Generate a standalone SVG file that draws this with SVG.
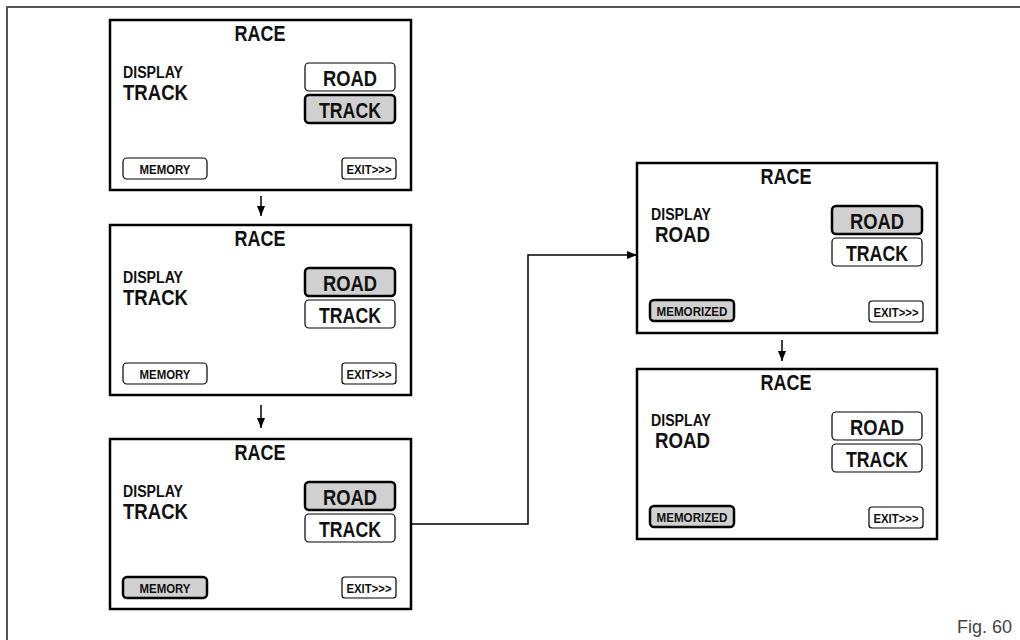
<svg xmlns="http://www.w3.org/2000/svg" width="1020" height="640" viewBox="0 0 1020 640">
<style>
.scr{fill:#fff;stroke:#000;stroke-width:2.5}
.btn{fill:#fff;stroke:#000;stroke-width:1.2}
.sel{fill:#d0d0d0;stroke:#000;stroke-width:2.5}
.t{font-family:'Liberation Sans Narrow','Liberation Sans',Arial,sans-serif;font-weight:bold;fill:#111}
.big{font-size:22.5px}
.mid{font-size:16px}
.sm{font-size:13px}
.c{text-anchor:middle}
.conn{fill:none;stroke:#000;stroke-width:1.5}
.frame{fill:none;stroke:#555;stroke-width:2}
</style>
<defs>
<marker id="ah" viewBox="0 0 10 8" refX="10" refY="4" markerWidth="10" markerHeight="8" markerUnits="userSpaceOnUse" orient="auto">
<path d="M0,0 L10,4 L0,8 z" fill="#000"/>
</marker>
</defs>
<path class="frame" d="M7,640 V7 H1020"/>
<g id="screen1" transform="translate(110,20)">
<rect class="scr" x="0" y="0" width="301" height="170"/>
<text class="t big c" x="150" y="21" textLength="51" lengthAdjust="spacingAndGlyphs">RACE</text>
<text class="t mid" x="13" y="58" textLength="60" lengthAdjust="spacingAndGlyphs">DISPLAY</text>
<text class="t big" x="13" y="80" textLength="65" lengthAdjust="spacingAndGlyphs">TRACK</text>
<rect class="btn" x="195" y="43" width="90" height="28" rx="4"/>
<text class="t big c" x="240" y="66" textLength="54" lengthAdjust="spacingAndGlyphs">ROAD</text>
<rect class="sel" x="195" y="75" width="90" height="28" rx="4"/>
<text class="t big c" x="240" y="98" textLength="62" lengthAdjust="spacingAndGlyphs">TRACK</text>
<rect class="btn" x="13" y="138" width="84" height="21" rx="4"/>
<text class="t sm c" x="55" y="153.5" textLength="51" lengthAdjust="spacingAndGlyphs">MEMORY</text>
<rect class="btn" x="232" y="138" width="54" height="21" rx="3"/>
<text class="t sm c" x="259" y="153.5" textLength="45" lengthAdjust="spacingAndGlyphs">EXIT&gt;&gt;&gt;</text>
</g>
<g id="screen2" transform="translate(110,225)">
<rect class="scr" x="0" y="0" width="301" height="170"/>
<text class="t big c" x="150" y="21" textLength="51" lengthAdjust="spacingAndGlyphs">RACE</text>
<text class="t mid" x="13" y="58" textLength="60" lengthAdjust="spacingAndGlyphs">DISPLAY</text>
<text class="t big" x="13" y="80" textLength="65" lengthAdjust="spacingAndGlyphs">TRACK</text>
<rect class="sel" x="195" y="43" width="90" height="28" rx="4"/>
<text class="t big c" x="240" y="66" textLength="54" lengthAdjust="spacingAndGlyphs">ROAD</text>
<rect class="btn" x="195" y="75" width="90" height="28" rx="4"/>
<text class="t big c" x="240" y="98" textLength="62" lengthAdjust="spacingAndGlyphs">TRACK</text>
<rect class="btn" x="13" y="138" width="84" height="21" rx="4"/>
<text class="t sm c" x="55" y="153.5" textLength="51" lengthAdjust="spacingAndGlyphs">MEMORY</text>
<rect class="btn" x="232" y="138" width="54" height="21" rx="3"/>
<text class="t sm c" x="259" y="153.5" textLength="45" lengthAdjust="spacingAndGlyphs">EXIT&gt;&gt;&gt;</text>
</g>
<g id="screen3" transform="translate(110,439)">
<rect class="scr" x="0" y="0" width="301" height="170"/>
<text class="t big c" x="150" y="21" textLength="51" lengthAdjust="spacingAndGlyphs">RACE</text>
<text class="t mid" x="13" y="58" textLength="60" lengthAdjust="spacingAndGlyphs">DISPLAY</text>
<text class="t big" x="13" y="80" textLength="65" lengthAdjust="spacingAndGlyphs">TRACK</text>
<rect class="sel" x="195" y="43" width="90" height="28" rx="4"/>
<text class="t big c" x="240" y="66" textLength="54" lengthAdjust="spacingAndGlyphs">ROAD</text>
<rect class="btn" x="195" y="75" width="90" height="28" rx="4"/>
<text class="t big c" x="240" y="98" textLength="62" lengthAdjust="spacingAndGlyphs">TRACK</text>
<rect class="sel" x="13" y="138" width="84" height="21" rx="4"/>
<text class="t sm c" x="55" y="153.5" textLength="51" lengthAdjust="spacingAndGlyphs">MEMORY</text>
<rect class="btn" x="232" y="138" width="54" height="21" rx="3"/>
<text class="t sm c" x="259" y="153.5" textLength="45" lengthAdjust="spacingAndGlyphs">EXIT&gt;&gt;&gt;</text>
</g>
<g id="screen4" transform="translate(637,163)">
<rect class="scr" x="0" y="0" width="300" height="170"/>
<text class="t big c" x="149" y="21" textLength="51" lengthAdjust="spacingAndGlyphs">RACE</text>
<text class="t mid" x="14" y="57" textLength="60" lengthAdjust="spacingAndGlyphs">DISPLAY</text>
<text class="t big" x="18" y="79" textLength="55" lengthAdjust="spacingAndGlyphs">ROAD</text>
<rect class="sel" x="195" y="43" width="90" height="28" rx="4"/>
<text class="t big c" x="240" y="66" textLength="54" lengthAdjust="spacingAndGlyphs">ROAD</text>
<rect class="btn" x="195" y="75" width="90" height="28" rx="4"/>
<text class="t big c" x="240" y="98" textLength="62" lengthAdjust="spacingAndGlyphs">TRACK</text>
<rect class="sel" x="13" y="137" width="84" height="21" rx="4"/>
<text class="t sm c" x="55" y="152.5" textLength="71" lengthAdjust="spacingAndGlyphs">MEMORIZED</text>
<rect class="btn" x="232" y="138" width="54" height="21" rx="3"/>
<text class="t sm c" x="259" y="153.5" textLength="45" lengthAdjust="spacingAndGlyphs">EXIT&gt;&gt;&gt;</text>
</g>
<g id="screen5" transform="translate(637,369)">
<rect class="scr" x="0" y="0" width="300" height="170"/>
<text class="t big c" x="149" y="21" textLength="51" lengthAdjust="spacingAndGlyphs">RACE</text>
<text class="t mid" x="14" y="57" textLength="60" lengthAdjust="spacingAndGlyphs">DISPLAY</text>
<text class="t big" x="18" y="79" textLength="55" lengthAdjust="spacingAndGlyphs">ROAD</text>
<rect class="btn" x="195" y="43" width="90" height="28" rx="4"/>
<text class="t big c" x="240" y="66" textLength="54" lengthAdjust="spacingAndGlyphs">ROAD</text>
<rect class="btn" x="195" y="75" width="90" height="28" rx="4"/>
<text class="t big c" x="240" y="98" textLength="62" lengthAdjust="spacingAndGlyphs">TRACK</text>
<rect class="sel" x="13" y="137" width="84" height="21" rx="4"/>
<text class="t sm c" x="55" y="152.5" textLength="71" lengthAdjust="spacingAndGlyphs">MEMORIZED</text>
<rect class="btn" x="232" y="138" width="54" height="21" rx="3"/>
<text class="t sm c" x="259" y="153.5" textLength="45" lengthAdjust="spacingAndGlyphs">EXIT&gt;&gt;&gt;</text>
</g>
<g id="connectors">
<line class="conn" x1="261" y1="196" x2="261" y2="216" marker-end="url(#ah)"/>
<line class="conn" x1="261" y1="405" x2="261" y2="428" marker-end="url(#ah)"/>
<line class="conn" x1="782" y1="340" x2="782" y2="361" marker-end="url(#ah)"/>
<path class="conn" d="M411,524 H528 V255 H637" marker-end="url(#ah)"/>
</g>
<text x="1012" y="633" font-family="'Liberation Sans',Arial,sans-serif" font-size="18" fill="#444" text-anchor="end">Fig. 60</text>
</svg>
